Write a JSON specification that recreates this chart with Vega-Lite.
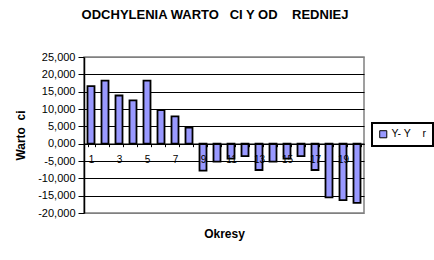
{
  "$schema": "https://vega.github.io/schema/vega-lite/v6.json",
  "width": 280,
  "height": 156,
  "autosize": {"type": "none"},
  "padding": {"left": 84, "top": 57, "right": 70, "bottom": 47},
  "background": "white",
  "title": {
    "text": "ODCHYLENIA WARTO\u00a0\u00a0\u00a0CI Y OD\u00a0\u00a0\u00a0\u00a0REDNIEJ",
    "font": "Liberation Sans",
    "fontSize": 13,
    "fontWeight": "bold",
    "color": "black",
    "anchor": "middle",
    "dx": -9,
    "offset": 29
  },
  "data": {
    "values": [
      {"okres": 1, "wartosc": 16.6, "seria": "Y- Y\u00a0\u00a0\u00a0\u00a0r"},
      {"okres": 2, "wartosc": 18.2, "seria": "Y- Y\u00a0\u00a0\u00a0\u00a0r"},
      {"okres": 3, "wartosc": 13.9, "seria": "Y- Y\u00a0\u00a0\u00a0\u00a0r"},
      {"okres": 4, "wartosc": 12.5, "seria": "Y- Y\u00a0\u00a0\u00a0\u00a0r"},
      {"okres": 5, "wartosc": 18.2, "seria": "Y- Y\u00a0\u00a0\u00a0\u00a0r"},
      {"okres": 6, "wartosc": 9.7, "seria": "Y- Y\u00a0\u00a0\u00a0\u00a0r"},
      {"okres": 7, "wartosc": 7.9, "seria": "Y- Y\u00a0\u00a0\u00a0\u00a0r"},
      {"okres": 8, "wartosc": 4.6, "seria": "Y- Y\u00a0\u00a0\u00a0\u00a0r"},
      {"okres": 9, "wartosc": -7.8, "seria": "Y- Y\u00a0\u00a0\u00a0\u00a0r"},
      {"okres": 10, "wartosc": -5.2, "seria": "Y- Y\u00a0\u00a0\u00a0\u00a0r"},
      {"okres": 11, "wartosc": -4.3, "seria": "Y- Y\u00a0\u00a0\u00a0\u00a0r"},
      {"okres": 12, "wartosc": -3.6, "seria": "Y- Y\u00a0\u00a0\u00a0\u00a0r"},
      {"okres": 13, "wartosc": -7.6, "seria": "Y- Y\u00a0\u00a0\u00a0\u00a0r"},
      {"okres": 14, "wartosc": -5.2, "seria": "Y- Y\u00a0\u00a0\u00a0\u00a0r"},
      {"okres": 15, "wartosc": -4.3, "seria": "Y- Y\u00a0\u00a0\u00a0\u00a0r"},
      {"okres": 16, "wartosc": -3.6, "seria": "Y- Y\u00a0\u00a0\u00a0\u00a0r"},
      {"okres": 17, "wartosc": -7.6, "seria": "Y- Y\u00a0\u00a0\u00a0\u00a0r"},
      {"okres": 18, "wartosc": -15.5, "seria": "Y- Y\u00a0\u00a0\u00a0\u00a0r"},
      {"okres": 19, "wartosc": -16.3, "seria": "Y- Y\u00a0\u00a0\u00a0\u00a0r"},
      {"okres": 20, "wartosc": -17.1, "seria": "Y- Y\u00a0\u00a0\u00a0\u00a0r"}
    ]
  },
  "mark": {"type": "bar", "stroke": "black", "strokeWidth": 1.8},
  "encoding": {
    "x": {
      "field": "okres",
      "type": "ordinal",
      "scale": {"paddingInner": 0.5, "paddingOuter": 0.25},
      "axis": {
        "title": "Okresy",
        "titleFont": "Liberation Sans",
        "titleFontSize": 12,
        "titleFontWeight": "bold",
        "titleColor": "black",
        "titlePadding": 64,
        "labelAngle": 0,
        "labelFont": "Liberation Sans",
        "labelFontSize": 10,
        "labelColor": "black",
        "labelPadding": 8,
        "labelExpr": "datum.value % 2 == 1 ? datum.label : ''",
        "offset": -69.33,
        "domainColor": "black",
        "domainWidth": 1.5,
        "tickColor": "black",
        "tickSize": 3,
        "tickWidth": 1,
        "tickBand": "extent",
        "grid": false,
        "zindex": 1
      }
    },
    "y": {
      "field": "wartosc",
      "type": "quantitative",
      "scale": {"domain": [-20, 25], "nice": false, "zero": false},
      "axis": {
        "title": "Warto\u00a0\u00a0ci",
        "titleFont": "Liberation Sans",
        "titleFontSize": 12,
        "titleFontWeight": "bold",
        "titleColor": "black",
        "titlePadding": 10,
        "values": [-20, -15, -10, -5, 0, 5, 10, 15, 20, 25],
        "labelExpr": "(datum.value < 0 ? '-' : '') + replace(format(abs(datum.value), '.3f'), '.', ',')",
        "labelFont": "Liberation Sans",
        "labelFontSize": 11,
        "labelColor": "black",
        "labelPadding": 3,
        "domainColor": "black",
        "domainWidth": 1.5,
        "tickColor": "black",
        "tickSize": 6,
        "grid": true,
        "gridColor": {"condition": {"test": "datum.value == 25 || datum.value == -20", "value": "#808080"}, "value": "black"},
        "gridWidth": 1.2,
        "gridOpacity": 1
      }
    },
    "color": {
      "field": "seria",
      "type": "nominal",
      "scale": {"range": ["#9999FF"]},
      "legend": {
        "title": null,
        "orient": "none",
        "legendX": 288,
        "legendY": 66,
        "strokeColor": "black",
        "fillColor": "white",
        "padding": 6,
        "symbolType": "square",
        "symbolSize": 50,
        "symbolStrokeColor": "black",
        "symbolStrokeWidth": 1,
        "symbolOpacity": 1,
        "labelFont": "Liberation Sans",
        "labelFontSize": 10.5,
        "labelColor": "black",
        "labelOffset": 3,
        "encode": {"legend": {"update": {"strokeWidth": {"value": 2}}}}
      }
    }
  },
  "config": {
    "view": {"stroke": "#808080", "strokeWidth": 1.5}
  }
}
